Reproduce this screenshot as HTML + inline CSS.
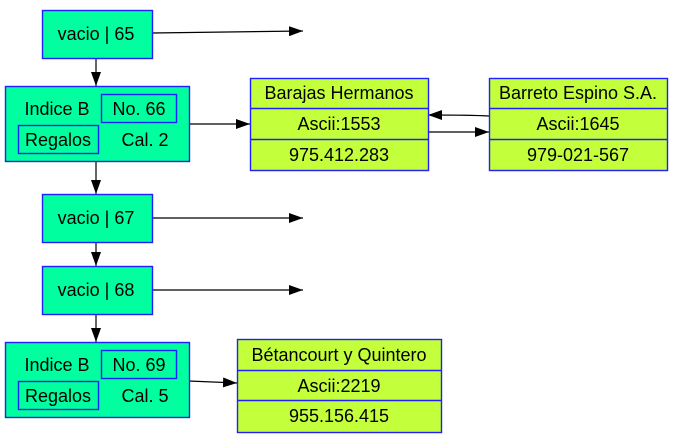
<!DOCTYPE html>
<html><head><style>body{margin:0;background:#fff}</style></head><body>
<svg width="684" height="437" xmlns="http://www.w3.org/2000/svg" font-family="Liberation Sans, Arial, sans-serif" font-size="18">
<defs>
<marker id="b" markerWidth="14" markerHeight="10" refX="14" refY="5" orient="auto" markerUnits="userSpaceOnUse"><path d="M0,0L14,5L0,10z" fill="#000"/></marker></defs>
<g stroke="#000" stroke-width="1.2" fill="none" marker-end="url(#b)">
<path d="M152,33L303,31"/><path d="M189,124L250,124"/>
<path d="M489,116C470,115 450,115 428,115"/><path d="M428,132C450,132 470,132 489,132"/>
<path d="M152,218L303,218"/><path d="M152,290L303,290"/><path d="M189,381L237,383"/>
<path d="M96,58L96,86"/><path d="M96,161L96,194"/><path d="M96,242L96,266"/><path d="M96,314L96,342"/>
</g>
<g stroke="#2020ff" stroke-width="1.4" fill="#00ff9f">
<rect x="42.5" y="10.5" width="110" height="48"/>
<rect x="42.5" y="194.5" width="110" height="48"/>
<rect x="42.5" y="266.5" width="110" height="48"/>
<rect x="5.5" y="86.5" width="184" height="75"/>
<rect x="101.5" y="94.5" width="75" height="28"/><rect x="18.5" y="125.5" width="80" height="28"/>
<rect x="5.5" y="342.5" width="184" height="75"/>
<rect x="101.5" y="350.5" width="75" height="28"/><rect x="18.5" y="381.5" width="80" height="28"/>
</g>
<g stroke="#2020ff" stroke-width="1.4" fill="#c4ff3c">
<rect x="250.5" y="78.5" width="178" height="92"/><path d="M250.5,108.5H428.5M250.5,139.5H428.5"/>
<rect x="489.5" y="78.5" width="178" height="92"/><path d="M489.5,108.5H667.5M489.5,139.5H667.5"/>
<rect x="237.5" y="339.5" width="204" height="93"/><path d="M237.5,370.5H441.5M237.5,400.5H441.5"/>
</g>
<g fill="#000" text-anchor="middle">
<text x="96" y="40">vacio | 65</text><text x="96" y="224">vacio | 67</text><text x="96" y="296">vacio | 68</text>
<text x="57" y="115">Indice B</text><text x="139" y="115">No. 66</text><text x="58" y="146">Regalos</text><text x="145" y="146">Cal. 2</text>
<text x="57" y="371">Indice B</text><text x="139" y="371">No. 69</text><text x="58" y="402">Regalos</text><text x="145" y="402">Cal. 5</text>
<text x="339" y="99">Barajas Hermanos</text><text x="339" y="130">Ascii:1553</text><text x="339" y="161">975.412.283</text>
<text x="578" y="99">Barreto Espino S.A.</text><text x="578" y="130">Ascii:1645</text><text x="578" y="161">979-021-567</text>
<text x="339" y="361">Bétancourt y Quintero</text><text x="339" y="392">Ascii:2219</text><text x="339" y="422">955.156.415</text>
</g>
</svg>
</body></html>
